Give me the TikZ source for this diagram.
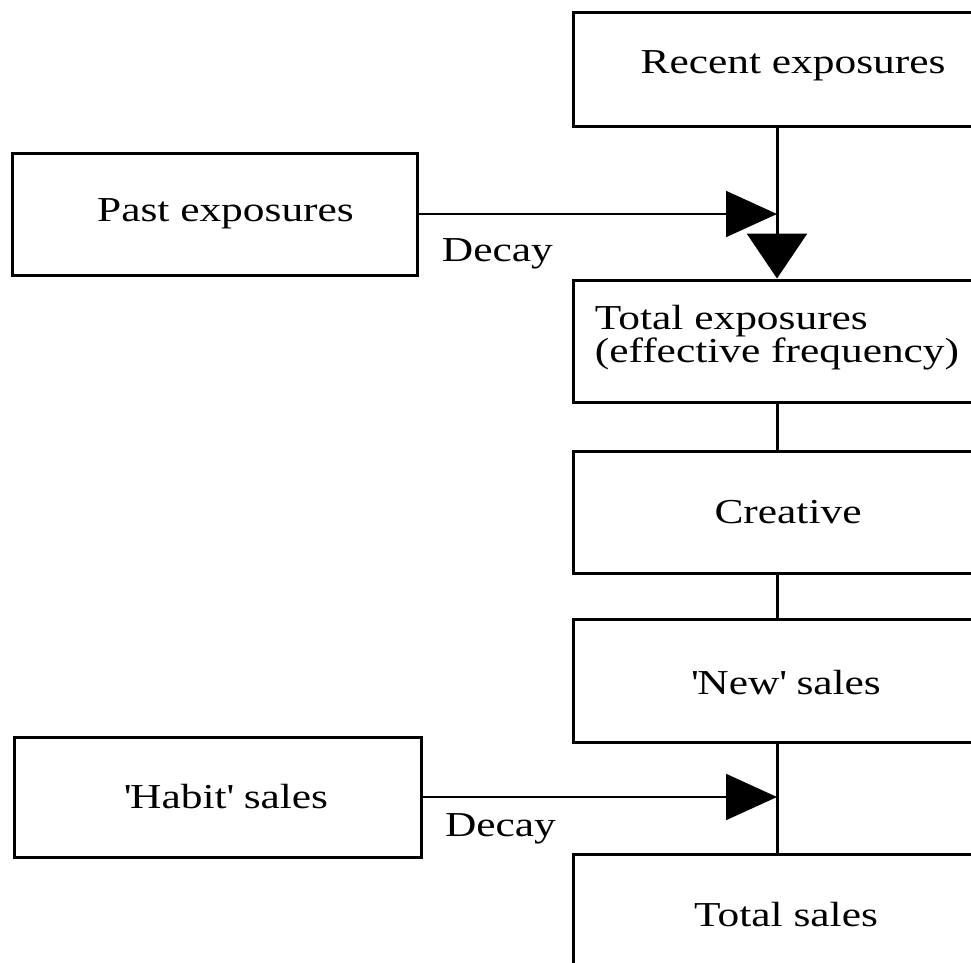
\documentclass[tikz,border=0pt]{standalone}
\usepackage{fontspec}
\setmainfont{Liberation Serif}[FakeStretch=1.24]
\usetikzlibrary{arrows.meta,calc}
\begin{document}
\begin{tikzpicture}[x=1pt,y=-1pt,
  font=\fontsize{35}{42}\selectfont,
  box/.style={draw, line width=3pt, rectangle, inner sep=0pt},
  wire/.style={line width=3pt},
  hwire/.style={line width=2pt},
  rtip/.style={-{Triangle[length=51pt,width=46pt]}},
  dtip/.style={-{Triangle[length=45pt,width=60pt]}}]
\useasboundingbox (0,0) rectangle (971,962);
\clip (0,0) rectangle (971,962);
\coordinate (spine) at (777,0);
% boxes
\node[box, minimum width=426pt, minimum height=114pt,
  label={[xshift=7pt, yshift=3pt]center:Recent exposures}] (recent) at (786,69) {};
\node[box, minimum width=405pt, minimum height=122pt,
  label={[xshift=11pt]center:Past exposures}] (past) at (214.5,214) {};
\node[box, minimum width=426pt, minimum height=122pt,
  label={[xshift=-9pt, yshift=3pt, align=left, font=\fontsize{35}{30}\selectfont]center:{Total exposures\\(effective frequency)}}] (totexp) at (786,341) {};
\node[box, minimum width=426pt, minimum height=122pt,
  label={[xshift=2pt]center:Creative}] (creative) at (786,512) {};
\node[box, minimum width=426pt, minimum height=123pt,
  label={[yshift=-2pt]center:\textquotesingle New\textquotesingle{} sales}] (newsales) at (786,680.5) {};
\node[box, minimum width=407pt, minimum height=120pt,
  label={[xshift=8.5pt]center:\textquotesingle Habit\textquotesingle{} sales}] (habit) at (217.5,797) {};
\node[box, minimum width=426pt, minimum height=122pt,
  label={center:Total sales}] (totsales) at (786,915) {};
% connectors
\draw[wire, dtip] (recent.south -| spine) -- (totexp.north -| spine);
\draw[hwire, rtip] (past.east) -- node[pos=0.22, anchor=north, inner sep=0pt, yshift=-24pt] (decayA) {Decay} (past.east -| spine);
\draw[wire] (totexp.south -| spine) -- (creative.north -| spine);
\draw[wire] (creative.south -| spine) -- (newsales.north -| spine);
\draw[wire] (newsales.south -| spine) -- (totsales.north -| spine);
\draw[hwire, rtip] (habit.east) -- node[pos=0.22, anchor=north, inner sep=0pt, yshift=-16pt] (decayB) {Decay} (habit.east -| spine);
\end{tikzpicture}
\end{document}
